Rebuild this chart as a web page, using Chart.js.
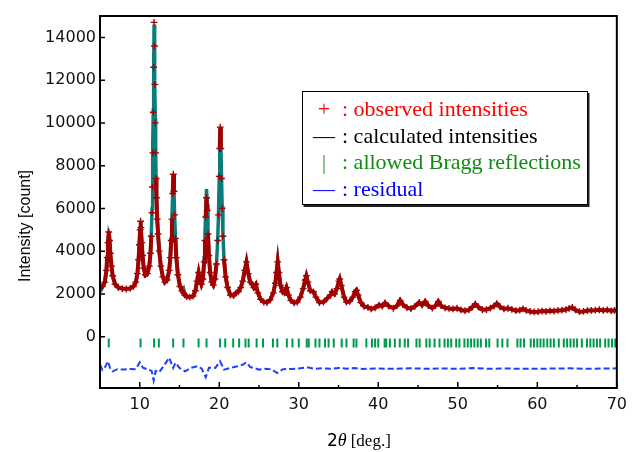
<!DOCTYPE html>
<html>
<head>
<meta charset="utf-8">
<script src="https://cdn.jsdelivr.net/npm/chart.js@4.4.1/dist/chart.umd.min.js"></script>
<style>
  body { margin: 0; background: #fff; }
  #wrap { position: relative; width: 634px; height: 452px; }
  .ytitle {
    position: absolute; left: 25px; top: 226px;
    transform: translate(-50%, -50%) rotate(-90deg);
    font: 16px "Liberation Sans", sans-serif; color: #000; white-space: nowrap;
  }
  .xtitle {
    position: absolute; left: 327px; top: 430px;
    font: 17px "Liberation Serif", serif; color: #000; white-space: nowrap;
  }
  .xtitle .two { font: 17px "DejaVu Sans", sans-serif; }
  .xtitle i { font-size: 18px; margin-right: 4px; }
  .legend {
    position: absolute; left: 302px; top: 91px; width: 286px; height: 114px;
    box-sizing: border-box; border: 1.3px solid #000; box-shadow: 1.5px 2px 0 #222;
    background: #fff; padding-top: 4px;
    font: 22px "Liberation Serif", serif; line-height: 26.5px;
  }
  .legend .mk { display: inline-block; width: 36px; padding-left: 3px; text-align: center; }
</style>
</head>
<body>
<div id="wrap">
  <canvas id="c"></canvas>
  <div class="ytitle">Intensity [count]</div>
  <div class="xtitle"><span class="two">2</span><i>θ</i>[deg.]</div>
  <div class="legend">
    <div style="color:#ff0000"><span class="mk">+</span>: observed intensities</div>
    <div style="color:#000"><span class="mk">—</span>: calculated intensities</div>
    <div style="color:#138a13"><span class="mk" style="color:#3a9a3a">|</span>: allowed Bragg reflections</div>
    <div style="color:#0000ff"><span class="mk">—</span>: residual</div>
  </div>
</div>
<script>
// 2theta grid of the profile (deg.)
const twoTheta = [5.0,5.3,5.6,5.8,5.9,6.0,6.1,6.2,6.3,6.45,6.6,6.9,7.3,7.8,8.3,8.8,9.2,9.5,9.7,9.85,9.95,10.05,10.1,10.15,10.25,10.35,10.5,10.7,10.95,11.2,11.35,11.45,11.55,11.6,11.65,11.7,11.75,11.8,11.85,11.9,11.95,12.0,12.05,12.1,12.2,12.3,12.45,12.65,12.9,13.15,13.45,13.7,13.85,13.95,14.05,14.15,14.22,14.3,14.38,14.48,14.6,14.8,15.05,15.3,15.5,15.65,15.9,16.3,16.7,17.0,17.2,17.4,17.55,17.75,17.95,18.1,18.2,18.3,18.4,18.48,18.58,18.7,18.85,19.05,19.25,19.45,19.65,19.8,19.9,20.0,20.06,20.12,20.2,20.28,20.36,20.46,20.6,20.8,21.05,21.4,21.8,22.1,22.4,22.7,22.95,23.2,23.42,23.65,23.9,24.15,24.35,24.6,24.85,25.2,25.6,26.0,26.4,26.8,27.05,27.2,27.35,27.5,27.7,27.95,28.2,28.45,28.7,29.0,29.4,29.8,30.2,30.55,30.8,30.95,31.15,31.45,31.85,32.15,32.6,33.1,33.6,34.0,34.2,34.5,34.8,35.05,35.15,35.35,35.7,36.0,36.4,36.8,37.1,37.25,37.45,37.8,38.2,38.7,39.1,39.6,40.1,40.5,40.85,41.3,41.9,42.35,42.75,43.1,43.6,44.1,44.6,45.15,45.5,45.9,46.3,46.8,47.2,47.55,47.9,48.4,48.9,49.4,49.9,50.4,50.9,51.4,51.85,52.2,52.6,53.1,53.6,54.1,54.55,54.9,55.3,55.8,56.3,56.8,57.3,57.8,58.2,58.6,59.1,59.6,60.1,60.6,61.1,61.6,62.1,62.6,63.1,63.6,64.0,64.4,64.8,65.3,65.8,66.3,66.8,67.3,67.8,68.3,68.8,69.3,69.7,70.0];

// observed intensities (count)
const observed = [2280,2350,2550,3100,3700,4400,4900,4500,3900,3300,2850,2450,2300,2250,2230,2260,2350,2550,2950,3600,4300,5000,5400,5100,4400,3800,3200,2900,2950,3300,3900,4700,5800,7000,8600,10500,12600,14700,13600,11800,10000,8600,7400,6500,5500,4800,4000,3300,2800,2550,2650,3100,3700,4500,5500,6700,7600,6800,5700,4600,3700,2900,2350,2150,2050,1950,1880,1850,1900,2150,2600,3000,2700,2450,2700,3500,4500,5600,6500,5900,4800,3800,3000,2550,2420,2700,3400,4500,5700,7500,8800,9800,8800,7400,6000,4700,3600,2800,2300,1950,1920,2050,2100,2300,2600,3100,3500,2950,2550,2450,2300,2450,2050,1750,1620,1600,1720,2050,2500,3000,3500,3000,2400,2100,2050,2300,1950,1700,1580,1620,1850,2250,2650,2850,2550,2150,2100,1850,1600,1620,1800,1950,2100,2000,2250,2600,2700,2400,1850,1620,1650,1850,2100,2170,1950,1600,1420,1370,1300,1350,1480,1430,1580,1430,1330,1450,1700,1500,1360,1310,1420,1600,1480,1650,1450,1340,1450,1650,1450,1350,1320,1300,1330,1250,1220,1250,1400,1530,1380,1260,1270,1340,1430,1550,1400,1300,1330,1280,1220,1240,1300,1230,1180,1160,1170,1200,1180,1210,1200,1230,1240,1270,1320,1370,1250,1170,1180,1220,1230,1240,1260,1230,1250,1210,1230,1220];

// calculated intensities (count)
const calculated = [2100,2300,2520,3000,3600,4300,4750,4600,3900,3250,2800,2450,2300,2250,2230,2260,2350,2500,2900,3650,4400,5100,5300,5200,4500,3800,3200,2850,2900,3300,3950,4800,6000,7300,8800,10600,12700,14600,13800,12000,10200,8600,7500,6600,5500,4800,4000,3300,2800,2550,2650,3100,3800,4600,5600,6800,7500,6900,5800,4700,3700,2900,2400,2150,2250,2000,1880,1850,1900,2150,2600,3000,2700,2450,2750,3700,4800,6000,6900,6200,5000,3800,3000,2550,2420,2700,3400,4500,5700,7500,8900,9750,8900,7600,6100,4800,3600,2800,2300,1950,1920,2050,2150,2300,2600,3100,3450,2950,2550,2450,2300,2450,2100,1750,1620,1600,1720,2050,2500,3000,3550,3000,2400,2100,2050,2300,1950,1700,1580,1620,1850,2250,2650,2850,2550,2150,2100,1850,1600,1620,1800,1950,2100,2000,2250,2600,2700,2400,1850,1620,1650,1850,2100,2170,1950,1600,1420,1370,1300,1350,1480,1430,1580,1430,1330,1450,1700,1500,1360,1310,1420,1600,1480,1650,1450,1340,1450,1650,1450,1350,1320,1300,1330,1250,1220,1250,1400,1530,1380,1260,1270,1340,1430,1550,1400,1300,1330,1280,1220,1240,1300,1230,1180,1160,1170,1200,1180,1210,1200,1230,1240,1270,1320,1370,1250,1170,1180,1220,1230,1240,1260,1230,1250,1210,1230,1220];

// residual (obs - calc, shifted)
const residX = [5.0,5.3,5.6,6.0,6.3,6.6,7.2,8.0,8.8,9.5,10.0,10.4,11.0,11.5,11.75,12.0,12.4,13.0,13.7,14.2,14.5,15.0,15.7,16.5,17.3,17.8,18.3,18.7,19.5,20.1,20.6,21.5,22.3,23.0,23.4,23.9,24.5,25.0,25.8,26.5,27.3,28.0,29.0,30.0,31.0,32.0,33.0,34.0,35.0,36.0,37.0,38.0,40.0,42.0,44.0,46.0,48.0,50.0,52.0,54.0,56.0,58.0,60.0,62.0,64.0,66.0,68.0,70.0];
const residY = [-1300,-1550,-1450,-1150,-1500,-1620,-1520,-1540,-1510,-1520,-1200,-1450,-1530,-1600,-2050,-1600,-1680,-1380,-980,-1460,-1220,-1460,-1620,-1450,-1380,-1500,-1900,-1450,-1460,-1150,-1540,-1450,-1380,-1300,-1200,-1420,-1480,-1540,-1500,-1520,-1700,-1520,-1510,-1490,-1430,-1500,-1480,-1500,-1460,-1500,-1470,-1510,-1490,-1500,-1480,-1500,-1490,-1500,-1470,-1500,-1490,-1500,-1500,-1490,-1480,-1500,-1490,-1480];

// allowed Bragg reflection positions (deg.)
const braggPos = [6.1,10.1,11.8,12.4,14.2,15.5,17.4,18.4,20.1,20.75,21.75,22.5,23.3,23.7,24.7,25.5,26.75,27.3,28.5,29.2,30.0,31.0,31.25,32.1,32.6,33.3,33.75,34.4,35.4,36.0,36.9,37.25,38.5,39.2,39.6,40.0,40.8,41.0,41.46,42.08,42.7,43.33,43.75,44.8,45.2,46.04,46.46,47.08,47.7,48.33,48.75,49.17,49.8,50.2,50.83,51.25,51.67,52.08,52.5,52.9,53.54,53.96,55.0,55.6,56.25,57.5,57.9,58.33,59.17,59.58,60.0,60.4,60.8,61.25,61.67,62.08,62.7,63.33,63.75,64.17,64.58,65.0,65.6,66.25,66.67,67.08,67.5,67.9,68.54,68.96,69.4,69.8];
const braggLevel = -300;

const xTicks = [10, 20, 30, 40, 50, 60, 70];
const xMinorTicks = [15, 25, 35, 45, 55, 65];
const yTicks = [0, 2000, 4000, 6000, 8000, 10000, 12000, 14000];

const obsColor = '#a30000';
const calcColor = '#0b7b7b';
const braggColor = '#00994d';
const residColor = '#1f3fff';
const tickFont = { family: 'DejaVu Sans', size: 16 };

// marco negro y marcas de graduación hacia dentro
const framePlugin = {
  id: 'frame',
  afterDraw(chart) {
    const { ctx, chartArea: a, scales: { x, y } } = chart;
    ctx.save();
    ctx.strokeStyle = '#000';
    ctx.lineWidth = 2;
    ctx.strokeRect(a.left, a.top, a.right - a.left, a.bottom - a.top);
    ctx.lineWidth = 1.5;
    ctx.beginPath();
    xTicks.forEach(v => { const px = x.getPixelForValue(v); ctx.moveTo(px, a.bottom); ctx.lineTo(px, a.bottom - 6); });
    xMinorTicks.forEach(v => { const px = x.getPixelForValue(v); ctx.moveTo(px, a.bottom); ctx.lineTo(px, a.bottom - 3); });
    yTicks.forEach(v => { const py = y.getPixelForValue(v); ctx.moveTo(a.left, py); ctx.lineTo(a.left + 5, py); });
    ctx.stroke();
    ctx.restore();
  }
};

// los flancos muy empinados se dejan sin línea roja, sólo cruces
const steep = c => Math.abs(c.p1.y - c.p0.y) > 22;

new Chart(document.getElementById('c'), {
  type: 'line',
  data: {
    datasets: [
      {
        label: 'observed',
        data: twoTheta.map((t, i) => ({ x: t, y: observed[i] })),
        borderColor: obsColor,
        borderWidth: 4,
        pointStyle: 'cross',
        pointRadius: 3.4,
        pointBorderWidth: 1.4,
        pointBorderColor: obsColor,
        segment: { borderColor: c => steep(c) ? 'rgba(0,0,0,0)' : obsColor },
        order: 1
      },
      {
        label: 'calculated',
        data: twoTheta.map((t, i) => ({ x: t, y: calculated[i] })),
        borderColor: calcColor,
        borderWidth: 3.5,
        pointRadius: 0,
        order: 2
      },
      {
        label: 'Bragg',
        data: braggPos.map(t => ({ x: t, y: braggLevel })),
        showLine: false,
        pointStyle: 'line',
        rotation: 90,
        pointRadius: 4.5,
        pointBorderWidth: 2,
        pointBorderColor: braggColor,
        order: 0
      },
      {
        label: 'residual',
        data: residX.map((t, i) => ({ x: t, y: residY[i] })),
        borderColor: residColor,
        borderWidth: 2,
        borderDash: [6, 3],
        pointRadius: 0,
        order: 0
      }
    ]
  },
  options: {
    responsive: true,
    maintainAspectRatio: false,
    animation: false,
    events: [],
    layout: { padding: { left: 0, top: 16, right: 14, bottom: 0 } },
    plugins: { legend: { display: false }, tooltip: { enabled: false } },
    scales: {
      x: {
        type: 'linear', min: 5, max: 70,
        afterBuildTicks: s => { s.ticks = xTicks.map(v => ({ value: v })); },
        afterFit: s => { s.height = 64; },
        grid: { display: false, drawTicks: false },
        border: { display: false },
        ticks: { font: tickFont, color: '#111', padding: 7, maxRotation: 0, autoSkip: false, callback: v => String(v) }
      },
      y: {
        type: 'linear', min: -2400, max: 15000,
        afterBuildTicks: s => { s.ticks = yTicks.map(v => ({ value: v })); },
        afterFit: s => { s.width = 100; },
        grid: { display: false, drawTicks: false },
        border: { display: false },
        ticks: { font: tickFont, color: '#111', padding: 4, autoSkip: false, callback: v => String(v) }
      }
    }
  },
  plugins: [framePlugin]
});
</script>
</body>
</html>
